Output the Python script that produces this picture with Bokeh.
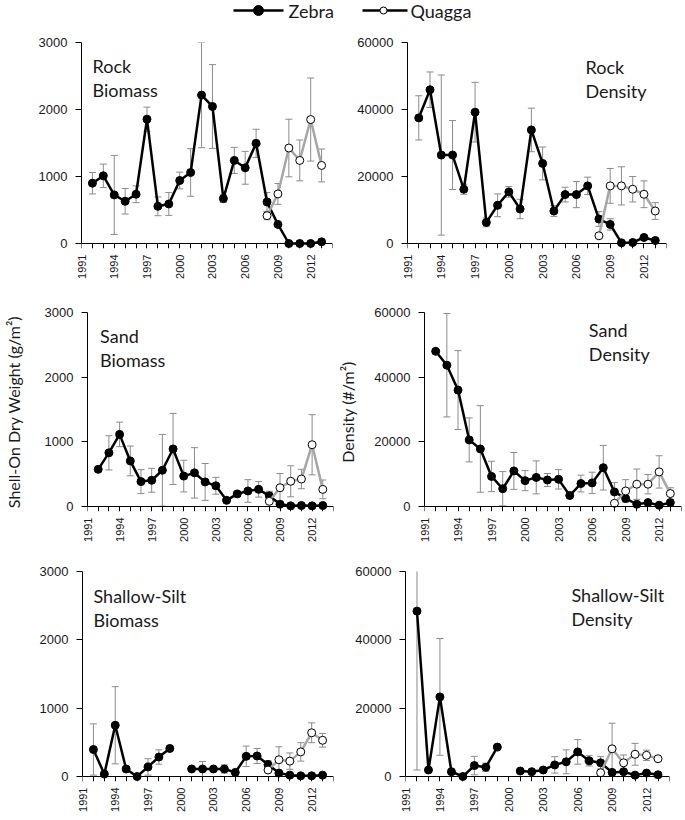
import math
from bokeh.plotting import figure
from bokeh.models import Range1d, FixedTicker, Whisker, ColumnDataSource, TeeHead, LinearAxis
from bokeh.layouts import column, row
from bokeh.embed import file_html
from bokeh.resources import INLINE
from bokeh.core.properties import value

nan = float("nan")

# ---------------- data ----------------
zebra_years = [1992, 1993, 1994, 1995, 1996, 1997, 1998, 1999, 2000, 2001, 2002,
               2003, 2004, 2005, 2006, 2007, 2008, 2009, 2010, 2011, 2012, 2013]
quagga_years = [2008, 2009, 2010, 2011, 2012, 2013]
year_labels = [1991, 1994, 1997, 2000, 2003, 2006, 2009, 2012]
all_years = list(range(1991, 2015))
biomass_ticks = [0, 1000, 2000, 3000]
density_ticks = [0, 20000, 40000, 60000]

rock_bio_zebra = [900, 1010, 725, 630, 735, 1855, 555, 590, 940, 1060, 2215,
                  2045, 670, 1240, 1130, 1495, 620, 285, 0, 0, 0, 25]
rock_bio_zebra_err = [160, 175, 590, 190, 125, 180, 140, 170, 125, 355, 785,
                      625, 55, 195, 245, 210, 140, 0, 0, 0, 0, 0]
rock_bio_quagga = [415, 740, 1425, 1240, 1850, 1165]
rock_bio_quagga_err = [60, 155, 430, 305, 620, 245]

rock_den_zebra = [37500, 45900, 26400, 26400, 16200, 39200, 6300, 11400, 15400, 10300, 33900,
                  23900, 9700, 14600, 14600, 17200, 7300, 5700, 200, 300, 1800, 900]
rock_den_zebra_err = [6600, 5300, 23900, 10300, 1500, 8900, 1300, 3400, 1600, 2900, 6500,
                      4900, 1600, 2200, 3900, 2600, 2200, 1700, 0, 0, 0, 0]
rock_den_quagga = [2300, 17200, 17200, 16200, 14700, 9700]
rock_den_quagga_err = [0, 5200, 5700, 3800, 4000, 2500]

sand_bio_zebra = [575, 830, 1115, 705, 385, 405, 560, 890, 470, 520, 380,
                  320, 95, 195, 240, 265, 165, 35, 10, 15, 10, 15]
sand_bio_zebra_err = [0, 265, 190, 230, 185, 185, 555, 550, 245, 390, 285,
                      130, 0, 40, 175, 120, 70, 0, 0, 0, 0, 0]
sand_bio_quagga = [80, 290, 390, 425, 955, 265]
sand_bio_quagga_err = [0, 220, 240, 150, 465, 145]

sand_den_zebra = [48000, 43700, 36000, 20600, 17800, 9300, 5500, 11000, 8000, 9000, 8200,
                  8400, 3400, 7100, 7300, 12000, 4500, 2500, 700, 1200, 400, 1200]
sand_den_zebra_err = [0, 16000, 12200, 6800, 13400, 4700, 5300, 5700, 3100, 5100, 2000,
                      3000, 0, 2600, 3300, 6900, 2900, 0, 0, 0, 0, 0]
sand_den_quagga = [1000, 4800, 6900, 6900, 10700, 4000]
sand_den_quagga_err = [0, 3500, 4700, 3000, 5000, 1800]

silt_bio_zebra = [395, 35, 750, 110, 0, 140, 285, 410, nan, 110, 110,
                  110, 110, 60, 295, 300, 175, 50, 20, 10, 10, 20]
silt_bio_zebra_err = [375, 0, 565, 40, 0, 120, 105, 0, nan, 0, 110,
                      0, 60, 0, 150, 110, 55, 0, 0, 0, 0, 0]
silt_bio_quagga = [95, 245, 225, 360, 640, 530]
silt_bio_quagga_err = [0, 190, 120, 135, 145, 100]

silt_den_zebra = [48400, 1900, 23300, 1400, 0, 3200, 2700, 8600, nan, 1600, 1400,
                  1900, 3400, 4300, 7200, 4600, 4000, 1200, 1400, 400, 1000, 500]
silt_den_zebra_err = [46500, 0, 17100, 0, 0, 2700, 1200, 0, nan, 0, 0,
                      0, 2400, 3500, 3600, 1500, 1800, 0, 0, 0, 0, 0]
silt_den_quagga = [1100, 8100, 4000, 6500, 6200, 5200]
silt_den_quagga_err = [0, 7500, 2300, 3200, 1500, 0]

# ---------------- style ----------------
TITLE_FONT = "Lato"
TICK_FONT = "Liberation Sans"
TEXT_COLOR = "#1a1a1a"
ERR_COLOR = "#8c8c8c"
QUAGGA_LINE = "#a6a6a6"

EPS_PX = 5
# row geometry (canvas px): frame top (max value), zero line, figure top, figure height
ROWS = [(42, 243, 30, 270), (312, 506, 300, 260), (571, 776, 560, 258)]
# frame left/right per row for left and right columns
COLS = [((81, 332), (407, 666)), ((79, 333), (412, 681)), ((82, 333), (405, 669))]
FIG_X = [(0, 335), (335, 684)]


def add_errors(p, xs, ys, es):
    bx, up, lo = [], [], []
    for x, y, e in zip(xs, ys, es):
        if e is None or (isinstance(e, float) and math.isnan(e)) or e <= 0:
            continue
        bx.append(x)
        up.append(y + e)
        lo.append(max(0, y - e))
    src = ColumnDataSource(dict(x=bx, upper=up, lower=lo))
    w = Whisker(base="x", upper="upper", lower="lower", source=src,
                line_color=ERR_COLOR, line_width=1,
                upper_head=TeeHead(size=7, line_color=ERR_COLOR, line_width=1),
                lower_head=TeeHead(size=7, line_color=ERR_COLOR, line_width=1))
    p.add_layout(w)


def make_panel(r, c, ymax, yticks, zebra, zebra_err, quagga, quagga_err,
               title_lines, title_dx, title_dy, ylabel=None, ylabel_standoff=8):
    top, zero, fig_top, fig_h = ROWS[r]
    fl, fr = COLS[r][c]
    fx0, fx1 = FIG_X[c]
    S = zero - top
    frame_h = zero + EPS_PX - top
    eps = ymax * EPS_PX / S
    frame_w = fr - fl
    xr = (1991, 2014)
    yr = (-eps, ymax)
    p = figure(width=fx1 - fx0, height=fig_h, output_backend="svg", toolbar_location=None,
               x_range=Range1d(*xr), y_range=Range1d(*yr),
               min_border_left=fl - fx0, min_border_right=fx1 - fr,
               min_border_top=top - fig_top, min_border_bottom=fig_h - (top - fig_top) - frame_h)
    p.outline_line_color = None
    p.grid.visible = False
    p.background_fill_color = "white"
    p.border_fill_color = "white"

    # axis line + yearly ticks drawn at y = 0
    xa = p.xaxis[0]
    xa.fixed_location = 0
    xa.ticker = FixedTicker(ticks=[], minor_ticks=all_years)
    xa.major_tick_out = 5
    xa.major_tick_in = 0
    xa.minor_tick_out = 5
    xa.minor_tick_in = 0
    xa.axis_line_color = "black"
    xa.major_tick_line_color = "black"
    xa.minor_tick_line_color = "black"

    # separate axis for the year labels
    xl = LinearAxis(ticker=FixedTicker(ticks=year_labels, minor_ticks=[]))
    xl.axis_line_color = None
    xl.major_tick_line_color = None
    xl.minor_tick_line_color = None
    xl.major_tick_out = 0
    xl.major_tick_in = 0
    xl.minor_tick_out = 0
    xl.minor_tick_in = 0
    xl.major_label_orientation = math.pi / 2
    xl.major_label_standoff = 6
    xl.major_label_text_font = TICK_FONT
    xl.major_label_text_font_size = "11px"
    xl.major_label_text_color = TEXT_COLOR
    p.add_layout(xl, "below")

    ya = p.yaxis[0]
    ya.bounds = (0, ymax)
    ya.ticker = FixedTicker(ticks=yticks)
    ya.major_tick_out = 6
    ya.major_tick_in = 0
    ya.minor_tick_out = 0
    ya.minor_tick_in = 0
    ya.major_label_standoff = 8
    ya.major_label_text_font = TICK_FONT
    ya.major_label_text_font_size = "13px"
    ya.major_label_text_color = TEXT_COLOR
    ya.axis_line_color = "black"
    ya.major_tick_line_color = "black"
    if ylabel:
        ya.axis_label = ylabel
        ya.axis_label_text_font = TITLE_FONT
        ya.axis_label_text_font_style = "normal"
        ya.axis_label_text_font_size = "16px"
        ya.axis_label_text_color = TEXT_COLOR
        ya.axis_label_standoff = ylabel_standoff

    add_errors(p, zebra_years, zebra, zebra_err)
    add_errors(p, quagga_years, quagga, quagga_err)

    p.line(zebra_years, zebra, line_color="black", line_width=2.5)
    p.scatter(zebra_years, zebra, size=8, fill_color="black", line_color="black")
    p.line(quagga_years, quagga, line_color=QUAGGA_LINE, line_width=2.5)
    p.scatter(quagga_years, quagga, size=8, fill_color="white", line_color="black", line_width=1)

    for i, t in enumerate(title_lines):
        tx = xr[0] + title_dx / frame_w * (xr[1] - xr[0])
        ty = yr[1] - (title_dy + 24 * i) / frame_h * (yr[1] - yr[0])
        p.text(x=[tx], y=[ty], text=[t], text_font=value(TITLE_FONT), text_font_size="18px",
               text_baseline="alphabetic", text_align="left", text_color=TEXT_COLOR)
    return p


p1 = make_panel(0, 0, 3000, biomass_ticks, rock_bio_zebra, rock_bio_zebra_err,
                rock_bio_quagga, rock_bio_quagga_err, ["Rock", "Biomass"], 11, 23)
p2 = make_panel(0, 1, 60000, density_ticks, rock_den_zebra, rock_den_zebra_err,
                rock_den_quagga, rock_den_quagga_err, ["Rock", "Density"], 178, 24.5)
p3 = make_panel(1, 0, 3000, biomass_ticks, sand_bio_zebra, sand_bio_zebra_err,
                sand_bio_quagga, sand_bio_quagga_err, ["Sand", "Biomass"], 13, 23.5,
                ylabel="Shell-On Dry Weight (g/m²)", ylabel_standoff=19)
p4 = make_panel(1, 1, 60000, density_ticks, sand_den_zebra, sand_den_zebra_err,
                sand_den_quagga, sand_den_quagga_err, ["Sand", "Density"], 172, 17,
                ylabel="Density (#/m²)", ylabel_standoff=14)
p5 = make_panel(2, 0, 3000, biomass_ticks, silt_bio_zebra, silt_bio_zebra_err,
                silt_bio_quagga, silt_bio_quagga_err, ["Shallow-Silt", "Biomass"], 11, 24.5)
p6 = make_panel(2, 1, 60000, density_ticks, silt_den_zebra, silt_den_zebra_err,
                silt_den_quagga, silt_den_quagga_err, ["Shallow-Silt", "Density"], 166, 23.5)

# ---------------- legend strip ----------------
leg = figure(width=684, height=30, output_backend="svg", toolbar_location=None,
             x_range=Range1d(0, 684), y_range=Range1d(0, 30), min_border=0)
leg.axis.visible = False
leg.grid.visible = False
leg.outline_line_color = None
leg.line([233, 283], [20, 20], line_color="black", line_width=2.5)
leg.scatter([258], [20], size=10, fill_color="black", line_color="black")
leg.text(x=[288], y=[20], text=["Zebra"], text_font=value(TITLE_FONT), text_font_size="18px",
         text_baseline="middle", text_align="left", text_color=TEXT_COLOR)
leg.line([362, 407], [20, 20], line_color="black", line_width=2.5)
leg.scatter([383], [20], size=7, fill_color="white", line_color="black", line_width=1)
leg.text(x=[410], y=[20], text=["Quagga"], text_font=value(TITLE_FONT), text_font_size="18px",
         text_baseline="middle", text_align="left", text_color=TEXT_COLOR)

layout = column(leg, row(p1, p2), row(p3, p4), row(p5, p6))
open("out.html", "w").write(file_html(layout, INLINE))
